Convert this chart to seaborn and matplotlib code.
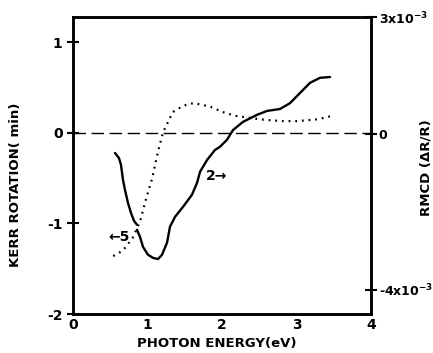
import numpy as np
import pandas as pd
import matplotlib
matplotlib.use("Agg")
import matplotlib.pyplot as plt
import seaborn as sns

# Kerr rotation (min), dotted curve, left axis
kerr_energy = [0.54, 0.67, 0.80, 0.90, 0.97, 1.06, 1.14, 1.21, 1.34, 1.48, 1.62, 1.84,
               2.01, 2.17, 2.34, 2.51, 2.64, 2.82, 3.01, 3.28, 3.49]
kerr_rot = [-1.36, -1.30, -1.16, -0.98, -0.76, -0.51, -0.21, 0.01, 0.23, 0.30, 0.33, 0.29,
            0.23, 0.19, 0.17, 0.15, 0.14, 0.13, 0.13, 0.15, 0.19]

# RMCD (units of 1e-3), solid curve, right axis; two segments (break near 0.86 eV)
rmcd_energy = [0.564, 0.617, 0.644, 0.671, 0.698, 0.738, 0.779, 0.819, 0.859,
               0.859, 0.899, 0.940, 1.007, 1.074, 1.141, 1.195, 1.262, 1.302, 1.369,
               1.477, 1.597, 1.664, 1.705, 1.799, 1.906, 1.973, 2.067, 2.148, 2.282,
               2.470, 2.604, 2.779, 2.913, 3.047, 3.181, 3.315, 3.450]
rmcd_val = [-0.49, -0.62, -0.79, -1.18, -1.44, -1.77, -2.03, -2.23, -2.33,
            -2.46, -2.64, -2.90, -3.10, -3.18, -3.21, -3.10, -2.79, -2.38, -2.13,
            -1.87, -1.56, -1.26, -0.97, -0.67, -0.41, -0.33, -0.15, 0.10, 0.31,
            0.49, 0.59, 0.64, 0.79, 1.05, 1.31, 1.44, 1.46]
rmcd_seg = [0] * 9 + [1] * 28

x_ticks = [0, 1, 2, 3, 4]
left_ticks = [1, 0, -1, -2]
right_ticks = [3, 0, -4]
right_tick_labels = ["3x10$^{-3}$", "0", "-4x10$^{-3}$"]

sns.set_style("white")
plt.rcParams["font.family"] = ["DejaVu Sans"]
plt.rcParams["font.weight"] = "bold"
for k in ["text.color", "axes.labelcolor", "xtick.color", "ytick.color", "axes.edgecolor"]:
    plt.rcParams[k] = "black"

fig = plt.figure(figsize=(4.33, 3.53), dpi=100)
ax = fig.add_axes([73 / 433, 1 - 314 / 353, (371 - 73) / 433, (314 - 17) / 353])

kerr_df = pd.DataFrame({"E": kerr_energy, "K": kerr_rot})
rmcd_df = pd.DataFrame({"E": rmcd_energy, "R": rmcd_val, "seg": rmcd_seg})

sns.lineplot(data=kerr_df, x="E", y="K", ax=ax, color="black", lw=1.6,
             linestyle=(0, (0.8, 2.2)), estimator=None, sort=False)
ax.axhline(0, color="black", lw=1.0, linestyle=(0, (9, 4)))
ax.set_xlim(0, 4)
ax.set_ylim(-1.98, 1.28)
ax.set_xticks(x_ticks)
ax.set_xticklabels([str(t) for t in x_ticks])
ax.set_yticks(left_ticks)
ax.set_yticklabels([str(t) for t in left_ticks])
ax.set_xlabel("")
ax.set_ylabel("")

ax2 = ax.twinx()
sns.lineplot(data=rmcd_df, x="E", y="R", units="seg", ax=ax2, color="black", lw=1.7,
             estimator=None, sort=False, solid_joinstyle="round", solid_capstyle="round")
ax2.set_ylim(-4.62, 3.0)
ax2.set_yticks(right_ticks)
ax2.set_yticklabels(right_tick_labels)
ax2.set_ylabel("")
ax2.set_xlim(0, 4)

for a in (ax, ax2):
    for s in a.spines.values():
        s.set_linewidth(1.8)
        s.set_color("black")
ax.tick_params(axis="both", direction="in", length=6, width=1.5, labelsize=10, pad=3,
               colors="black")
ax.tick_params(axis="y", direction="inout", length=9)
ax2.tick_params(axis="y", direction="inout", length=9, width=1.5, labelsize=9, pad=1,
                colors="black")
for lab in ax.get_xticklabels() + ax.get_yticklabels() + ax2.get_yticklabels():
    lab.set_fontweight("bold")

ax.text(1.93, -0.48, "2\u2192", fontsize=10, fontweight="bold", ha="center", va="center")
ax.text(0.62, -1.15, "\u21905", fontsize=10, fontweight="bold", ha="center", va="center")

fig.text(217 / 433, 1 - 343 / 353, "PHOTON ENERGY(eV)", fontsize=9.5, fontweight="bold",
         ha="center", va="center")
fig.text(16 / 433, 1 - 185 / 353, "KERR ROTATION( min)", fontsize=9.5, fontweight="bold",
         ha="center", va="center", rotation=90)
fig.text(426 / 433, 1 - 168 / 353, "RMCD (\u0394R/R)", fontsize=9.5, fontweight="bold",
         ha="center", va="center", rotation=90)

fig.savefig("out.png", dpi=100)
